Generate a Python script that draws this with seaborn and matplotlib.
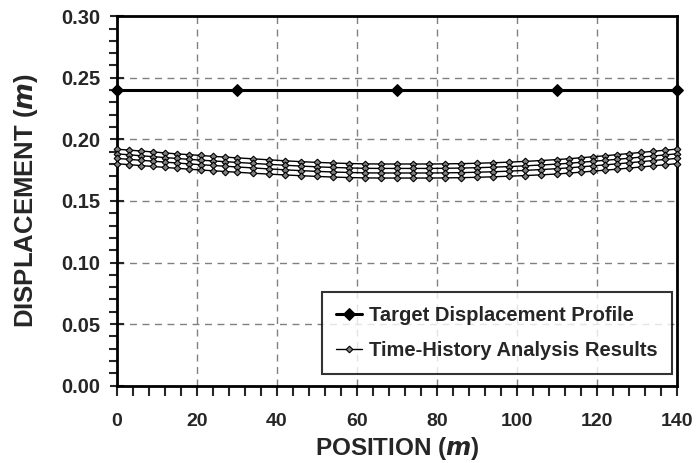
import numpy as np
import pandas as pd
import seaborn as sb
from matplotlib import pyplot as plt
from matplotlib.ticker import MultipleLocator

# positions along the structure (m)
position = [0, 3, 6, 9, 12, 15, 18, 21, 24, 27, 30,
            34, 38, 42, 46, 50, 54, 58, 62, 66, 70, 74, 78, 82, 86, 90, 94, 98, 102, 106,
            110, 113, 116, 119, 122, 125, 128, 131, 134, 137, 140]

target_pos = [0, 30, 70, 110, 140]
target_disp = [0.24, 0.24, 0.24, 0.24, 0.24]

run_1 = [0.1920, 0.1913, 0.1905, 0.1898, 0.1890, 0.1882, 0.1876, 0.1869, 0.1862, 0.1856, 0.1850,
         0.1842, 0.1834, 0.1826, 0.1819, 0.1813, 0.1808, 0.1804, 0.1801, 0.1800, 0.1800, 0.1800,
         0.1800, 0.1801, 0.1803, 0.1806, 0.1810, 0.1815, 0.1821, 0.1828, 0.1836, 0.1843, 0.1851,
         0.1859, 0.1867, 0.1876, 0.1885, 0.1894, 0.1903, 0.1912, 0.1921]
run_2 = [0.1882, 0.1875, 0.1867, 0.1860, 0.1852, 0.1845, 0.1838, 0.1831, 0.1825, 0.1819, 0.1813,
         0.1805, 0.1797, 0.1790, 0.1783, 0.1777, 0.1772, 0.1768, 0.1765, 0.1764, 0.1764, 0.1764,
         0.1764, 0.1765, 0.1767, 0.1770, 0.1774, 0.1779, 0.1785, 0.1792, 0.1799, 0.1806, 0.1814,
         0.1822, 0.1830, 0.1838, 0.1847, 0.1856, 0.1865, 0.1874, 0.1883]
run_3 = [0.1845, 0.1838, 0.1830, 0.1823, 0.1815, 0.1808, 0.1801, 0.1794, 0.1788, 0.1782, 0.1776,
         0.1768, 0.1760, 0.1753, 0.1746, 0.1740, 0.1735, 0.1731, 0.1728, 0.1727, 0.1727, 0.1727,
         0.1727, 0.1728, 0.1730, 0.1733, 0.1737, 0.1742, 0.1748, 0.1755, 0.1762, 0.1769, 0.1777,
         0.1785, 0.1793, 0.1801, 0.1810, 0.1819, 0.1828, 0.1837, 0.1846]
run_4 = [0.1802, 0.1795, 0.1787, 0.1780, 0.1772, 0.1765, 0.1758, 0.1751, 0.1745, 0.1739, 0.1733,
         0.1725, 0.1718, 0.1711, 0.1705, 0.1699, 0.1694, 0.1690, 0.1687, 0.1686, 0.1686, 0.1686,
         0.1686, 0.1687, 0.1689, 0.1692, 0.1696, 0.1701, 0.1706, 0.1712, 0.1719, 0.1726, 0.1734,
         0.1742, 0.1750, 0.1758, 0.1767, 0.1776, 0.1785, 0.1794, 0.1803]

sb.set_style("white")
plt.rcParams['font.family'] = ['Liberation Sans', 'DejaVu Sans']
plt.rcParams['font.weight'] = 'bold'

fig = plt.figure(figsize=(6.96, 4.63), dpi=100)
ax = fig.add_axes([0.168, 0.167, 0.805, 0.798])

runs = pd.DataFrame({"pos": position * 4,
                     "disp": run_1 + run_2 + run_3 + run_4,
                     "run": sum([[i] * len(position) for i in range(4)], [])})

sb.lineplot(data=runs, x="pos", y="disp", units="run", estimator=None, ax=ax,
            color="black", lw=1, marker="D", ms=3.4, mfc="#808080", mec="black", mew=0.8,
            label="Time-History Analysis Results", zorder=3, clip_on=False)
sb.lineplot(x=target_pos, y=target_disp, ax=ax, color="black", lw=2.2, marker="D", ms=6.5,
            mfc="black", mec="black", label="Target Displacement Profile", zorder=4,
            clip_on=False)

ax.set_xlim(0, 140)
ax.set_ylim(0, 0.30)
ax.xaxis.set_major_locator(MultipleLocator(20))
ax.xaxis.set_minor_locator(MultipleLocator(4))
ax.yaxis.set_major_locator(MultipleLocator(0.05))
ax.yaxis.set_minor_locator(MultipleLocator(0.01))
ax.yaxis.set_major_formatter(plt.FormatStrFormatter("%.2f"))
ax.grid(True, which="major", color="#808080", ls=(0, (5, 4)), lw=1)
ax.set_axisbelow(True)

for s in ax.spines.values():
    s.set_color("black")
    s.set_linewidth(2)
ax.tick_params(axis="x", which="both", direction="out", length=7, width=1.5,
               labelsize=14, pad=13, bottom=True)
ax.tick_params(axis="y", which="major", direction="inout", length=10, width=1.5,
               labelsize=14.5, pad=7, left=True)
ax.tick_params(axis="y", which="minor", direction="out", length=6, width=1.5, left=True)
for lab in ax.get_xticklabels() + ax.get_yticklabels():
    lab.set_fontweight("bold")

ax.set_xlabel(r"POSITION ($\mathbfit{m}$)", fontsize=17.5, fontweight="bold", labelpad=3)
ax.set_ylabel(r"DISPLACEMENT ($\mathbfit{m}$)", fontsize=18.5, fontweight="bold", labelpad=15)

h, l = ax.get_legend_handles_labels()
leg = ax.legend([h[-1], h[0]], [l[-1], l[0]], loc="lower right",
                bbox_to_anchor=(0.991, 0.032), borderaxespad=0,
                fontsize=14.5, frameon=True, fancybox=False, edgecolor="black",
                borderpad=0.7, labelspacing=0.8, handlelength=1.3, handletextpad=0.35)
leg.get_frame().set_linewidth(1.5)
for t in leg.get_texts():
    t.set_fontweight("bold")

plt.savefig("out.png", dpi=100)
